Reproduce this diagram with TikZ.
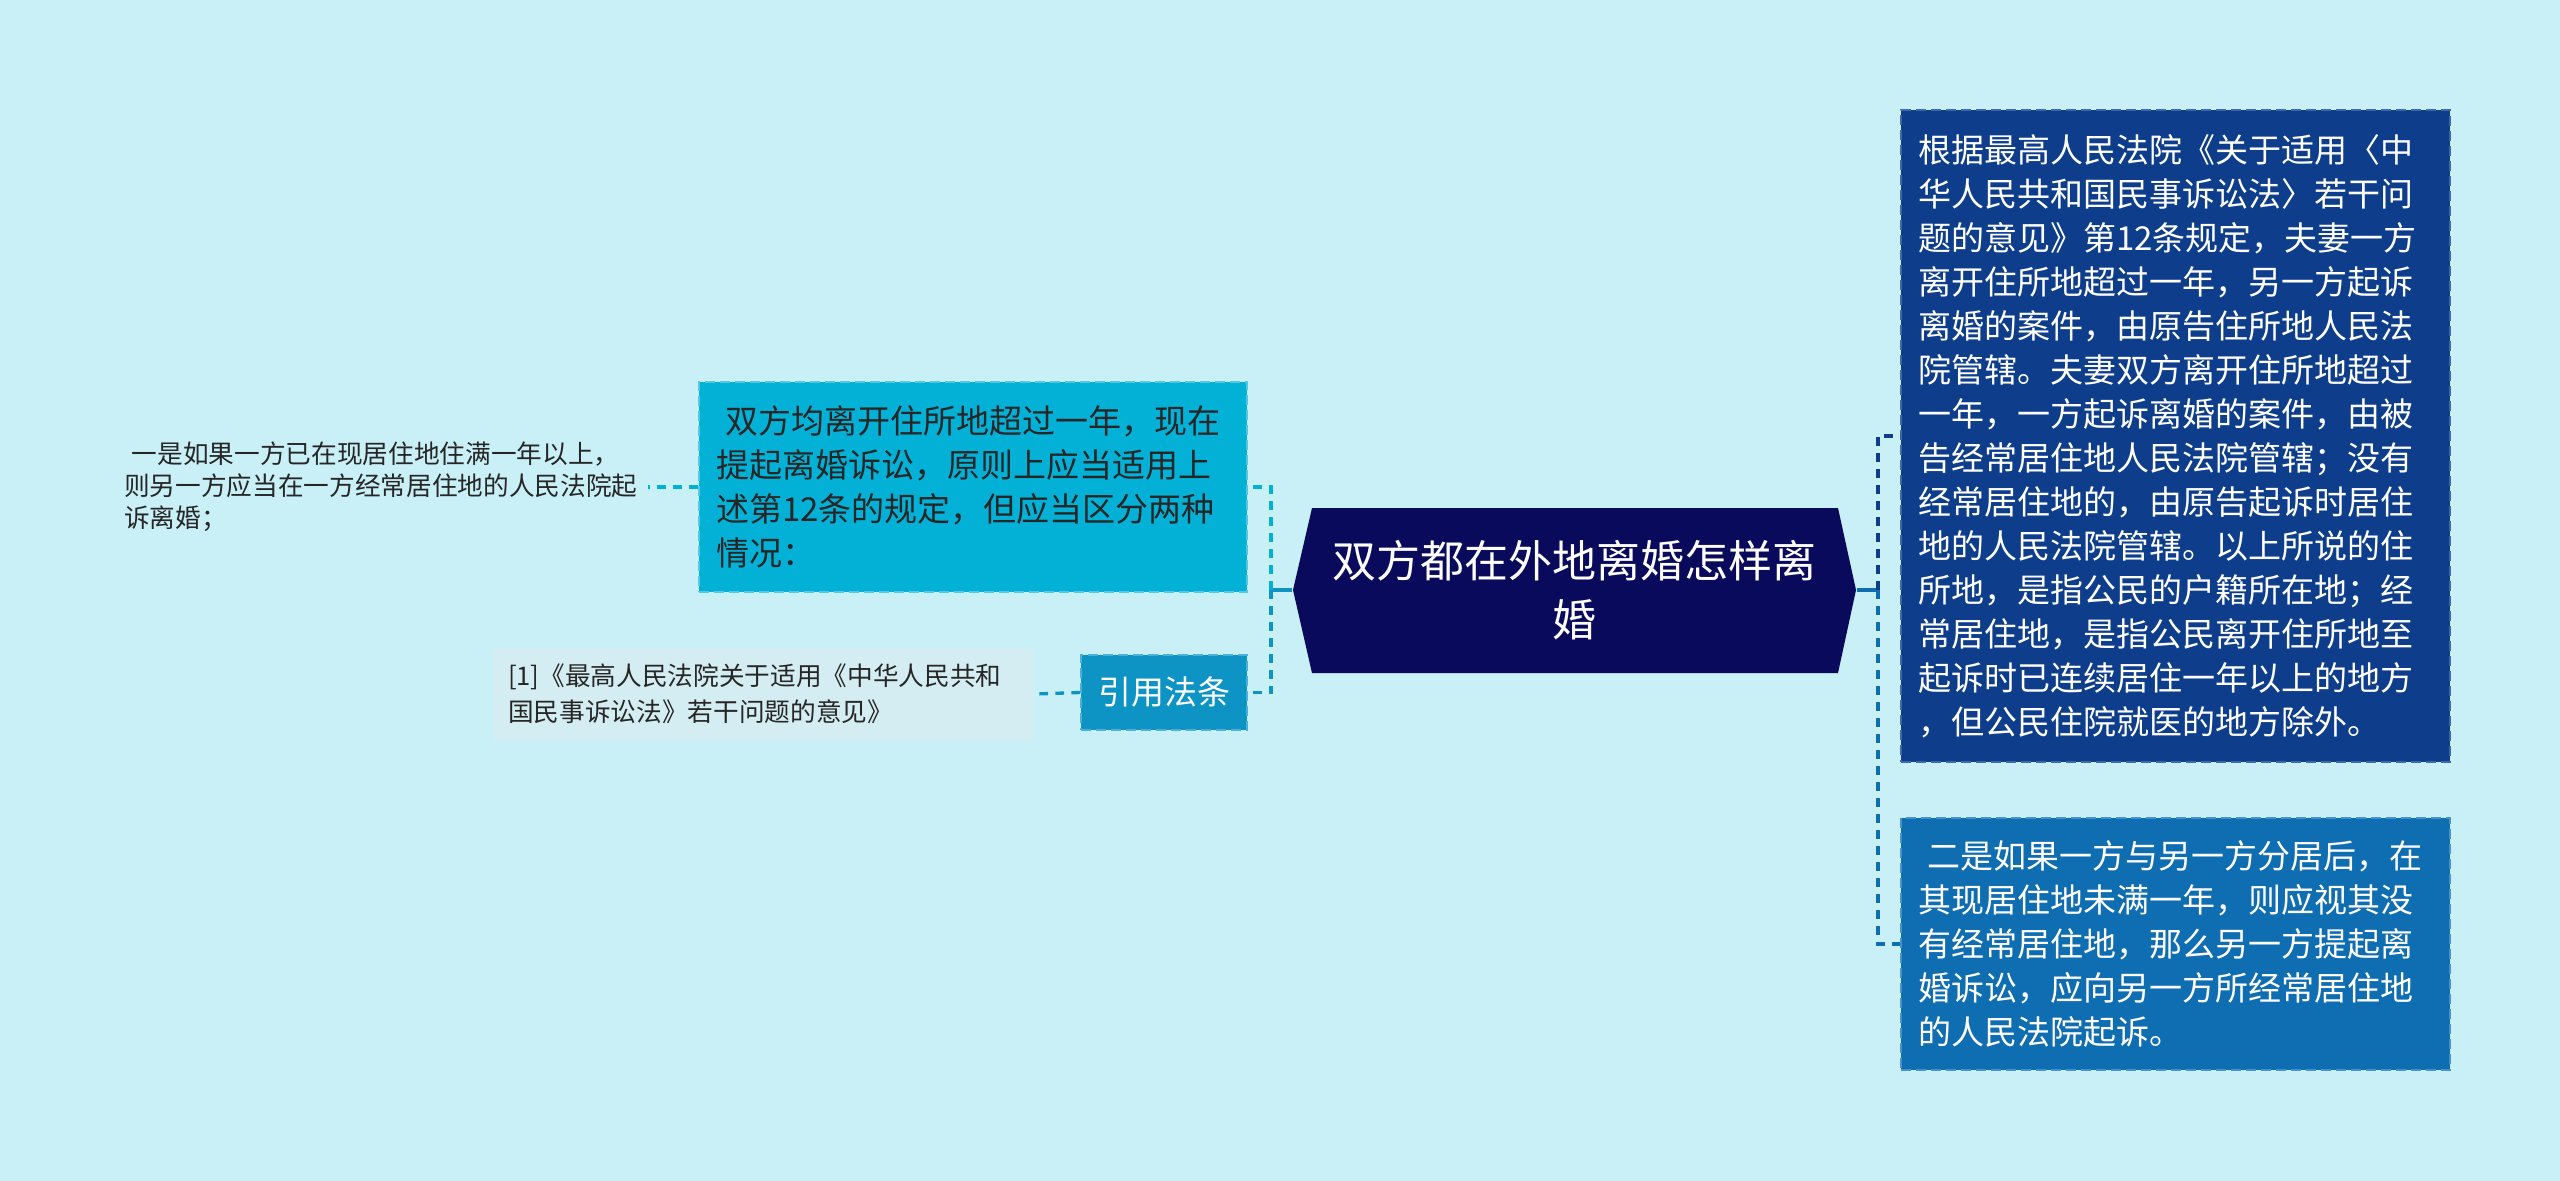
\documentclass[tikz,border=0pt]{standalone}
\usepackage{fontspec}
\setmainfont{Noto Sans CJK SC}

\definecolor{bgc}{HTML}{C9F0F7}
\definecolor{centrefill}{HTML}{0A0A5C}
\definecolor{splitfill}{HTML}{04B1D6}
\definecolor{splitedge}{HTML}{55C8E3}
\definecolor{lawfill}{HTML}{0D94C4}
\definecolor{lawedge}{HTML}{4AB2D9}
\definecolor{citefill}{HTML}{D4EDF3}
\definecolor{rulefill}{HTML}{0E3E8B}
\definecolor{ruleedge}{HTML}{4068AA}
\definecolor{twofill}{HTML}{0F6DB2}
\definecolor{twoedge}{HTML}{4C92CA}
\definecolor{inktext}{HTML}{262626}

\begin{document}
\begin{tikzpicture}[x=0.3pt,y=-0.3pt,
    conn/.style={line width=1pt, dash pattern=on 2.6pt off 2.2pt},
    stub/.style={line width=1.1pt},
    boxed/.style={rectangle, line width=0.6pt, dash pattern=on 3pt off 1.5pt,
        align=left, inner xsep=5.1pt, inner ysep=0pt,
        font=\fontsize{9.9}{13.2}\selectfont},
    small/.style={align=left, inner xsep=3pt, inner ysep=0pt, text=inktext,
        font=\fontsize{7.7}{9.6}\selectfont}]
    %Background
    \fill[bgc] (0,0) rectangle (2560,1181);

    %Centre
    \fill[centrefill] (1312,508) -- (1838,508) -- (1856,590) -- (1838,673)
        -- (1312,673) -- (1293,590) -- cycle;
    \node[align=center, text=white, minimum width=168.9pt, minimum height=49.5pt,
        inner sep=0pt, font=\fontsize{13.2}{17.7}\selectfont]
        (centre) at (1574.5,590) {双方都在外地离婚怎样离\\婚};

    %Left
    \node[boxed, fill=splitfill, draw=splitedge, text=inktext, text width=154.2pt,
        minimum height=63pt] (split) at (973,487)
        {\hspace*{0.3em}双方均离开住所地超过一年，现在\\
         提起离婚诉讼，原则上应当适用上\\
         述第12条的规定，但应当区分两种\\
         情况：};
    \node[boxed, fill=lawfill, draw=lawedge, text=white, align=center,
        minimum width=49.8pt, minimum height=22.5pt, inner xsep=0pt]
        (law) at (1164,692.5) {引用法条};
    \node[small, anchor=east] (one) at (648,487)
        {\hspace*{0.3em}一是如果一方已在现居住地住满一年以上，\\
         则另一方应当在一方经常居住地的人民法院起\\
         诉离婚；};
    \node[small, fill=citefill, text width=153.3pt, inner xsep=4.5pt,
        minimum height=27.6pt, font=\fontsize{7.7}{10.8}\selectfont]
        (cite) at (763.5,694)
        {[1]《最高人民法院关于适用《中华人民共和\\
         国民事诉讼法》若干问题的意见》};

    %Right
    \node[boxed, fill=rulefill, draw=ruleedge, text=white, text width=154.5pt,
        minimum height=195.6pt] (rule) at (2175.5,436)
        {根据最高人民法院《关于适用〈中\\
         华人民共和国民事诉讼法〉若干问\\
         题的意见》第12条规定，夫妻一方\\
         离开住所地超过一年，另一方起诉\\
         离婚的案件，由原告住所地人民法\\
         院管辖。夫妻双方离开住所地超过\\
         一年，一方起诉离婚的案件，由被\\
         告经常居住地人民法院管辖；没有\\
         经常居住地的，由原告起诉时居住\\
         地的人民法院管辖。以上所说的住\\
         所地，是指公民的户籍所在地；经\\
         常居住地，是指公民离开住所地至\\
         起诉时已连续居住一年以上的地方\\
         ，但公民住院就医的地方除外。};
    \node[boxed, fill=twofill, draw=twoedge, text=white, text width=154.5pt,
        minimum height=75.6pt] (two) at (2175.5,944)
        {\hspace*{0.3em}二是如果一方与另一方分居后，在\\
         其现居住地未满一年，则应视其没\\
         有经常居住地，那么另一方提起离\\
         婚诉讼，应向另一方所经常居住地\\
         的人民法院起诉。};

    %Connectors
    \coordinate (jl) at (1271,590);
    \coordinate (jr) at (1878,590);
    \draw[stub, draw=lawfill] (centre.west) -- (jl);
    \draw[stub, draw=twofill] (centre.east) -- (jr);
    \draw[conn, draw=splitfill] (jl) |- (split.east);
    \draw[conn, draw=lawfill] (jl) |- (law.east);
    \draw[conn, draw=splitfill] (split.west) -- (one.east);
    \draw[conn, draw=lawfill] (law.west) -- (cite.east);
    \draw[conn, draw=rulefill] (jr) |- (rule.west);
    \draw[conn, draw=twofill] (jr) |- (two.west);
\end{tikzpicture}
\end{document}
